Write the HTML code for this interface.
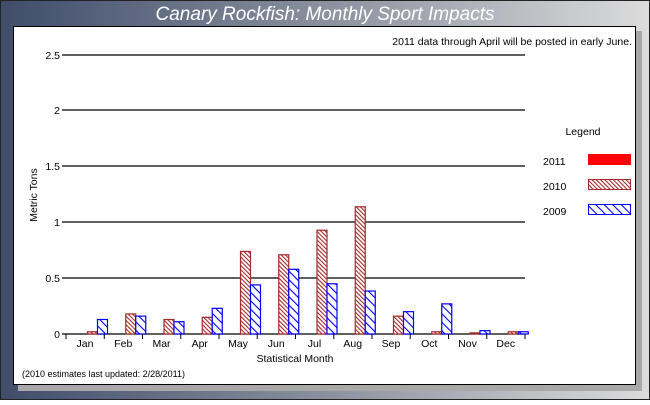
<!DOCTYPE html>
<html><head><style>
body{margin:0;width:650px;height:400px;overflow:hidden;font-family:"Liberation Sans",sans-serif}
</style></head><body>
<svg width="650" height="400" xmlns="http://www.w3.org/2000/svg" font-family="Liberation Sans, sans-serif">
<defs>
<linearGradient id="bg" x1="0" x2="1" y1="0" y2="0">
<stop offset="0" stop-color="#3f4d6b"/><stop offset="0.5" stop-color="#8a909e"/><stop offset="1" stop-color="#dcdcdc"/>
</linearGradient>
<pattern id="h10" width="3" height="3" patternUnits="userSpaceOnUse" patternTransform="rotate(-45)">
<rect width="3" height="3" fill="#fff"/><rect width="1.1" height="3" fill="#a52a2a"/></pattern>
<pattern id="h09" width="6" height="6" patternUnits="userSpaceOnUse" patternTransform="rotate(-45)">
<rect width="6" height="6" fill="#fff"/><rect width="1.1" height="6" fill="#0000ff"/></pattern>
</defs>
<rect width="650" height="400" fill="url(#bg)"/>
<rect x="0.5" y="0.5" width="649" height="399" fill="none" stroke="#222"/>
<rect x="18" y="31" width="624" height="360" fill="#a8a8a8"/>
<rect x="13.5" y="26.5" width="622" height="358" fill="#fff" stroke="#000"/>
<text x="325" y="20" font-size="19" font-style="italic" fill="#fff" text-anchor="middle">Canary Rockfish: Monthly Sport Impacts</text>
<text x="632" y="45" font-size="10.5" text-anchor="end">2011 data through April will be posted in early June.</text>
<g stroke="#000" stroke-width="1.3">
<line x1="62" y1="55" x2="525" y2="55"/><line x1="62" y1="110" x2="525" y2="110"/>
<line x1="62" y1="166" x2="525" y2="166"/><line x1="62" y1="222" x2="525" y2="222"/>
<line x1="62" y1="278" x2="525" y2="278"/><line x1="62" y1="334" x2="525" y2="334"/>
</g>
<g font-size="10.5" text-anchor="end">
<text x="60" y="59">2.5</text><text x="60" y="114">2</text><text x="60" y="170">1.5</text>
<text x="60" y="226">1</text><text x="60" y="282">0.5</text><text x="60" y="338">0</text>
</g>
<text transform="translate(37,195) rotate(-90)" font-size="10.5" text-anchor="middle">Metric Tons</text>
<g id="bars"></g>
<g font-size="10.5" text-anchor="middle" id="lbl"></g>
<text x="295" y="362" font-size="10.5" text-anchor="middle">Statistical Month</text>
<text x="22" y="377" font-size="9">(2010 estimates last updated: 2/28/2011)</text>
<text x="583" y="135" font-size="10.5" text-anchor="middle">Legend</text>
<text x="543" y="165" font-size="10.5">2011</text>
<text x="543" y="190" font-size="10.5">2010</text>
<text x="543" y="215" font-size="10.5">2009</text>
<rect x="588" y="154" width="43" height="11" fill="#f00"/>
<rect x="588.5" y="179.5" width="42" height="10" fill="url(#h10)" stroke="#a52a2a"/>
<rect x="588.5" y="204.5" width="42" height="10" fill="url(#h09)" stroke="#00f"/>
</svg>
<script>
var m=["Jan","Feb","Mar","Apr","May","Jun","Jul","Aug","Sep","Oct","Nov","Dec"];
var a=[0.02,0.18,0.13,0.15,0.74,0.71,0.93,1.14,0.16,0.02,0.01,0.02];
var b=[0.13,0.16,0.11,0.23,0.44,0.58,0.45,0.385,0.2,0.27,0.03,0.02];
var s="",l="";
for(var i=0;i<12;i++){var x0=66+i*38.25;
var h1=a[i]*111.6,h2=b[i]*111.6;
s+='<rect x="'+(x0+21.5)+'" y="'+(334-h1)+'" width="10" height="'+h1+'" fill="url(#h10)" stroke="#a52a2a" stroke-width="1.2"/>';
s+='<rect x="'+(x0+31.5)+'" y="'+(334-h2)+'" width="10" height="'+h2+'" fill="url(#h09)" stroke="#00f" stroke-width="1.2"/>';
l+='<text x="'+(x0+19)+'" y="347">'+m[i]+'</text>';
s+='<line x1="'+(x0+38.25)+'" y1="334" x2="'+(x0+38.25)+'" y2="339" stroke="#000"/>';}
s+='<line x1="66" y1="334" x2="66" y2="339" stroke="#000"/>';
document.getElementById("bars").innerHTML=s;document.getElementById("lbl").innerHTML=l;
</script>
</body></html>
